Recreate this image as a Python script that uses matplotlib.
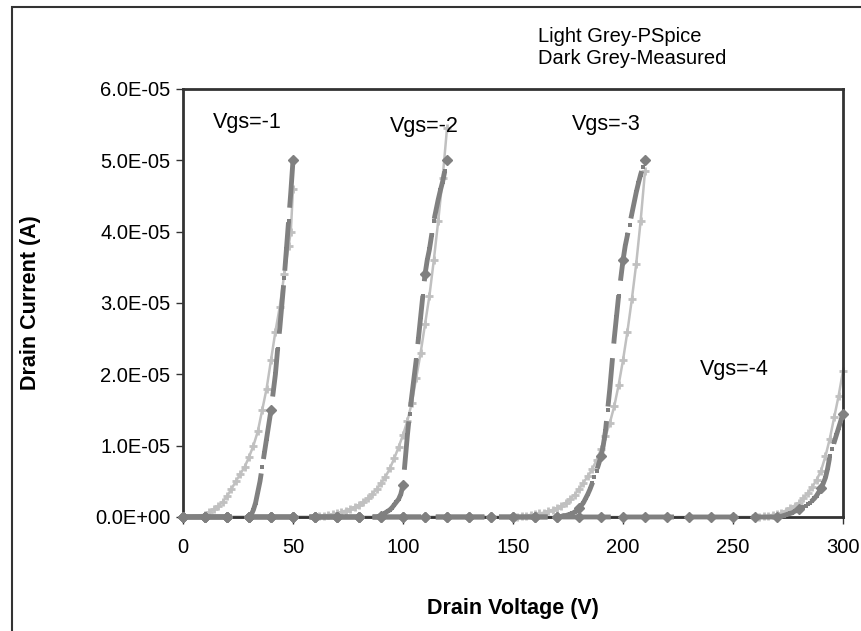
import matplotlib
matplotlib.use("Agg")
import matplotlib.pyplot as plt
from matplotlib.patches import Rectangle
from matplotlib.ticker import FuncFormatter

plt.rcParams['font.family'] = ['Liberation Sans', 'DejaVu Sans']

# PSpice (light grey) - drain current in units of 1E-05 A
v_sim1 = [0, 10, 12, 14, 16, 18, 20, 22, 24, 26, 28, 30, 32, 34, 36, 38, 40, 42, 44, 46, 48, 49, 50]
i_sim1 = [0, 0.03, 0.07, 0.11, 0.15, 0.21, 0.29, 0.39, 0.5, 0.6, 0.7, 0.84, 1.0, 1.2, 1.5, 1.8, 2.2, 2.6, 2.95, 3.4, 3.8, 4.0, 4.6]

v_sim2 = [0, 10, 20, 30, 40, 50, 60, 62, 64, 66, 68, 70, 72, 74, 76, 78, 80, 82, 84, 86, 88, 90,
          92, 94, 96, 98, 100, 102, 104, 106, 108, 110, 112, 114, 116, 118, 120]
i_sim2 = [0, 0, 0, 0, 0, 0, 0, 0.01, 0.02, 0.03, 0.04, 0.05, 0.07, 0.09, 0.11, 0.14, 0.17, 0.21, 0.26, 0.32, 0.39, 0.47,
          0.56, 0.68, 0.82, 0.98, 1.15, 1.35, 1.6, 1.95, 2.3, 2.7, 3.1, 3.6, 4.15, 4.75, 5.45]

v_sim3 = [0, 10, 20, 30, 40, 50, 60, 70, 80, 90, 100, 110, 120, 130, 140, 150, 152, 154, 156, 158, 160,
          162, 164, 166, 168, 170, 172, 174, 176, 178, 180, 182, 184, 186, 188, 190, 192, 194, 196, 198,
          200, 202, 204, 206, 208, 210]
i_sim3 = [0, 0, 0, 0, 0, 0, 0, 0, 0, 0, 0, 0, 0, 0, 0, 0, 0, 0.01, 0.02, 0.03, 0.04,
          0.05, 0.06, 0.08, 0.1, 0.13, 0.16, 0.2, 0.25, 0.31, 0.39, 0.48, 0.57, 0.67, 0.8, 0.95, 1.13, 1.32, 1.55, 1.85,
          2.2, 2.6, 3.05, 3.55, 4.15, 4.85]

v_sim4 = [0, 10, 20, 30, 40, 50, 60, 70, 80, 90, 100, 110, 120, 130, 140, 150, 160, 170, 180, 190, 200,
          210, 220, 230, 240, 250, 260, 262, 264, 266, 268, 270, 272, 274, 276, 278, 280, 282, 284, 286,
          288, 290, 292, 294, 296, 298, 300]
i_sim4 = [0, 0, 0, 0, 0, 0, 0, 0, 0, 0, 0, 0, 0, 0, 0, 0, 0, 0, 0, 0, 0,
          0, 0, 0, 0, 0, 0, 0, 0.01, 0.02, 0.03, 0.04, 0.06, 0.09, 0.12, 0.16, 0.2, 0.26, 0.33, 0.42,
          0.52, 0.65, 0.85, 1.1, 1.4, 1.7, 2.05]

# Measured (dark grey)
v_meas1 = [0, 10, 20, 30, 31, 32, 33, 34, 35, 36, 37, 38, 39, 40, 41, 42, 43, 44, 45, 46, 47, 48, 49, 50]
i_meas1 = [0, 0, 0, 0, 0.03, 0.1, 0.2, 0.35, 0.5, 0.7, 0.9, 1.1, 1.3, 1.5, 1.75, 2.0, 2.35, 2.65, 3.0, 3.35, 3.75, 4.15, 4.55, 5.0]

v_meas2 = [0, 10, 20, 30, 40, 50, 60, 70, 80, 88, 89, 90, 91, 92, 93, 94, 95, 96, 97, 98, 99, 100,
           101, 102, 103, 104, 105, 106, 107, 108, 109, 110, 111, 112, 113, 114, 115, 116, 117, 118, 119, 120]
i_meas2 = [0, 0, 0, 0, 0, 0, 0, 0, 0, 0, 0.01, 0.02, 0.04, 0.06, 0.08, 0.1, 0.13, 0.17, 0.21, 0.25, 0.32, 0.45,
           0.8, 1.15, 1.45, 1.7, 1.95, 2.2, 2.5, 2.8, 3.1, 3.4, 3.6, 3.75, 3.95, 4.15, 4.3, 4.45, 4.58, 4.7, 4.85, 5.0]

v_meas3 = [0, 10, 20, 30, 40, 50, 60, 70, 80, 90, 100, 110, 120, 130, 140, 150, 160, 170, 171, 172, 173, 174,
           175, 176, 177, 178, 179, 180, 181, 182, 183, 184, 185, 186, 187, 188, 189, 190, 191, 192, 193, 194,
           195, 196, 197, 198, 199, 200, 201, 202, 203, 204, 205, 206, 207, 208, 209, 210]
i_meas3 = [0, 0, 0, 0, 0, 0, 0, 0, 0, 0, 0, 0, 0, 0, 0, 0, 0, 0, 0.01, 0.01, 0.02, 0.02,
           0.03, 0.04, 0.05, 0.07, 0.09, 0.12, 0.16, 0.2, 0.26, 0.32, 0.39, 0.47, 0.56, 0.65, 0.75, 0.85, 1.0, 1.2, 1.5, 1.8,
           2.15, 2.5, 2.8, 3.1, 3.35, 3.6, 3.8, 3.95, 4.1, 4.25, 4.4, 4.55, 4.68, 4.8, 4.9, 5.0]

v_meas4 = [0, 10, 20, 30, 40, 50, 60, 70, 80, 90, 100, 110, 120, 130, 140, 150, 160, 170, 180, 190, 200,
           210, 220, 230, 240, 250, 260, 270, 271, 272, 273, 274, 275, 276, 277, 278, 279, 280, 281, 282, 283,
           284, 285, 286, 287, 288, 289, 290, 291, 292, 293, 294, 295, 296, 297, 298, 299, 300]
i_meas4 = [0, 0, 0, 0, 0, 0, 0, 0, 0, 0, 0, 0, 0, 0, 0, 0, 0, 0, 0, 0, 0,
           0, 0, 0, 0, 0, 0, 0, 0.01, 0.01, 0.02, 0.03, 0.04, 0.05, 0.06, 0.08, 0.09, 0.11, 0.12, 0.14, 0.16,
           0.18, 0.2, 0.23, 0.26, 0.3, 0.35, 0.4, 0.47, 0.55, 0.68, 0.85, 0.95, 1.05, 1.15, 1.25, 1.35, 1.45]

vgs_labels = ['Vgs=-1', 'Vgs=-2', 'Vgs=-3', 'Vgs=-4']
vgs_label_pos = [(29, 5.53), (109.5, 5.48), (192.5, 5.5), (250.5, 2.07)]

light = '#c0c0c0'
dark = '#808080'
fs = 15.5

fig = plt.figure(figsize=(8.62, 6.31), dpi=100)
ax = fig.add_axes([0.2123, 0.1807, 0.7657, 0.6783])

scale = 1e-5
sims = [(v_sim1, i_sim1), (v_sim2, i_sim2), (v_sim3, i_sim3), (v_sim4, i_sim4)]
meas = [(v_meas1, i_meas1), (v_meas2, i_meas2), (v_meas3, i_meas3), (v_meas4, i_meas4)]

for v, i in sims:
    ax.plot(v, [x * scale for x in i], color=light, lw=1.8, marker='+', ms=6, mew=2,
            clip_on=False, zorder=2)

for v, i in meas:
    y = [x * scale for x in i]
    ax.plot(v, y, color=dark, lw=3.5, ls=(0, (10, 3)), marker='s', ms=2.2, mew=0,
            clip_on=False, zorder=3)
    tens = [k % 10 == 0 for k in v]
    ax.plot(v, y, ls='none', color=dark, marker='D', ms=5, markevery=tens,
            clip_on=False, zorder=4)

for lab, (x, y) in zip(vgs_labels, vgs_label_pos):
    ax.text(x, y * scale, lab, ha='center', va='center', fontsize=fs)

ax.set_xlim(0, 300)
ax.set_ylim(0, 6e-5)
ax.set_xticks([0, 50, 100, 150, 200, 250, 300])
ax.set_yticks([0, 1e-5, 2e-5, 3e-5, 4e-5, 5e-5, 6e-5])
ax.yaxis.set_major_formatter(FuncFormatter(lambda v, p: f"{v:.1E}"))
ax.tick_params(direction='out', length=5, width=1, labelsize=14.5, color='#333333')
ax.tick_params(axis='x', pad=10)
ax.tick_params(axis='y', pad=4)
for s in ax.spines.values():
    s.set_linewidth(2)
    s.set_color('#333333')

ax.set_xlabel('Drain Voltage (V)', fontsize=fs, fontweight='bold')
ax.xaxis.set_label_coords(0.5, -0.19)
ax.set_ylabel('Drain Current (A)', fontsize=fs, fontweight='bold')
ax.yaxis.set_label_coords(-0.215, 0.5)

fig.text(538 / 862, 1 - 37 / 631, 'Light Grey-PSpice', fontsize=14.5, va='center', ha='left')
fig.text(538 / 862, 1 - 58 / 631, 'Dark Grey-Measured', fontsize=14.5, va='center', ha='left')

# chart area border (runs off the right and bottom edges)
fig.patches.append(Rectangle((12 / 862, -0.1), 1.2, 1.1 - 7 / 631, transform=fig.transFigure,
                             fill=False, edgecolor='#333333', lw=1.5))

fig.savefig('out.png', dpi=100)
